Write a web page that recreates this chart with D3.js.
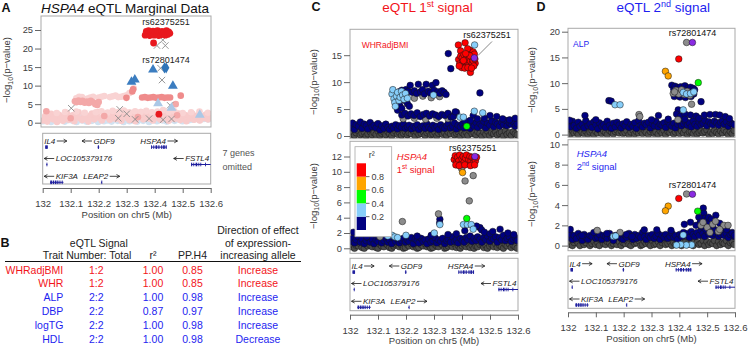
<!DOCTYPE html>
<html><head><meta charset="utf-8">
<script src="https://cdn.jsdelivr.net/npm/d3@7"></script>
<style>body{margin:0;background:#fff} svg{display:block;font-family:"Liberation Sans",Arial,Helvetica,sans-serif}</style>
</head><body><script>
// ================= DATA =================
const xTicks=[132,132.1,132.2,132.3,132.4,132.5,132.6];
const xTickLabels=["132","132.1","132.2","132.3","132.4","132.5","132.6"];
const aYTicks=[0,5,10,15,20,25];
const cTopYTicks=[0,5,10,15];
const cBotYTicks=[0,2,4,6,8,10,12];
const dTopYTicks=[0,5,10,15,20];
const dBotYTicks=[0,2,4,6,8,10];
const ldBreakLabels=["0.2","0.4","0.6","0.8"];
const ldColors=["#000080","#87cefa","#00ff00","#ffa500","#ff0000"];

// genes
const geneNames=["IL4","GDF9","HSPA4","LOC105379176","FSTL4","KIF3A","LEAP2"];
const geneStart=[132.009,132.196,132.387,132.013,132.530,132.026,132.208];
const geneEnd=[132.018,132.202,132.443,132.016,132.600,132.074,132.212];
const geneStrand=["+","-","+","-","-","-","+"];
const geneRow=[0,0,0,1,1,2,2];
const geneExons=[
 [[132.009,132.018]],
 [[132.197,132.201]],
 [[132.387,132.390],[132.395,132.398],[132.403,132.409],[132.413,132.417],[132.423,132.427],[132.430,132.436],[132.439,132.443]],
 [[132.0135,132.0155]],
 [[132.530,132.534],[132.538,132.541],[132.546,132.552],[132.556,132.558],[132.563,132.566],[132.580,132.582]],
 [[132.027,132.033],[132.036,132.041],[132.044,132.049],[132.052,132.056],[132.060,132.063],[132.068,132.071]],
 [[132.2095,132.2110]]
];

// table (panel B)
const tableTraits=["WHRadjBMI","WHR","ALP","DBP","logTG","HDL"];
const tableSignal=["1:2","1:2","2:2","2:2","2:2","2:2"];
const tableR2=["1.00","1.00","1.00","0.87","1.00","1.00"];
const tablePPH4=["0.85","0.85","0.98","0.97","0.98","0.98"];
const tableDirection=["Increase","Increase","Increase","Increase","Increase","Decrease"];
const tableSignalNo=[1,1,2,2,2,2];

// shared SNP positions for the dense low background band (Mb)
const snpPos=[132.002,132.009,132.016,132.022,132.030,132.037,132.043,132.051,132.058,132.064,
132.072,132.079,132.086,132.093,132.100,132.107,132.113,132.121,132.128,132.135,
132.141,132.149,132.156,132.163,132.170,132.176,132.184,132.191,132.198,132.205,
132.211,132.219,132.226,132.233,132.240,132.246,132.254,132.261,132.268,132.275,
132.281,132.289,132.296,132.303,132.310,132.316,132.324,132.331,132.338,132.345,
132.351,132.359,132.366,132.373,132.380,132.386,132.394,132.401,132.408,132.415,
132.421,132.429,132.436,132.443,132.450,132.456,132.464,132.471,132.478,132.485,
132.491,132.499,132.506,132.513,132.520,132.526,132.534,132.541,132.548,132.555,
132.561,132.569,132.576,132.583,132.590,132.597];

// Panel A background (-log10 p)
const aBlueBg=[0.4,1.2,0.8,1.5,0.2,1.0,1.7,0.6,1.3,0.9,1.6,0.3,1.1,0.7,1.4,0.5,1.0,0.2,0.8,1.3,0.6,1.1,0.3,0.9,1.4,0.5,1.2,0.7,0.2,1.0,0.8,0.4,1.3,0.6,1.0,0.3,0.9,1.5,0.5,1.1,0.7,0.2,1.2,0.8,0.4,1.0,0.6,1.3,0.3,0.9,1.1,0.5,0.8,1.4,0.2,1.0,0.7,1.2,0.4,0.9,1.5,0.6,1.1,0.3,1.3,0.8,1.6,0.5,1.2,0.9,1.7,0.4,1.4,1.0,0.6,1.5,0.8,1.8,1.1,1.3,0.7,1.6,1.0,1.4,0.9,1.2];
const aPinkBg=[0.6,1.8,0.3,1.2,2.4,0.9,1.5,0.2,2.1,1.0,0.5,1.7,2.6,0.8,1.3,2.0,0.4,1.6,2.8,1.1,0.7,2.2,1.4,0.3,1.9,2.5,0.9,1.6,2.9,1.2,0.6,2.3,1.5,2.7,0.8,1.9,2.4,1.0,2.6,1.4,0.5,2.1,2.8,1.3,0.7,2.5,1.8,0.4,2.2,1.6,2.9,0.9,1.7,2.3,1.1,2.6,0.6,1.9,2.4,1.2,0.8,2.0,1.5,2.7,0.5,1.8,2.3,1.0,1.6,2.5,0.7,1.3,2.1,0.4,1.9,1.1,2.4,0.8,1.5,2.0,0.6,1.7,1.2,2.2,0.9,1.4];
const aPinkPale=[[132.12,6.6],[132.14,6.9],[132.16,6.5],[132.18,7.0],[132.20,6.8],[132.22,7.2],[132.24,6.9],[132.26,7.3],[132.28,7.0],[132.30,7.4],[132.31,8.0],[132.325,9.3],[132.13,7.0],[132.17,6.8],[132.21,7.0],[132.25,7.1],[132.27,6.9],[132.29,7.2],
[132.19,2.8],[132.21,3.1],[132.23,2.7],[132.25,3.2],[132.27,2.9],[132.29,3.3],[132.31,2.8],[132.33,3.1],[132.35,2.9],[132.37,3.2],[132.39,2.8],[132.41,3.0],[132.43,3.4],[132.45,2.9],[132.47,3.1],[132.50,2.6],[132.53,2.8],[132.56,3.0],[132.59,2.7],[132.05,2.6],[132.08,2.9],[132.12,3.0],[132.15,2.7]];
const aPinkMid=[[132.115,5.8],[132.120,5.5],[132.128,6.0],[132.135,5.6],[132.142,5.9],[132.150,5.4],[132.158,5.7],[132.165,5.3],[132.172,5.9],[132.180,5.5],[132.188,5.0],[132.195,4.8],[132.200,5.6],[132.013,3.1],[132.475,5.0],[132.22,1.8],[132.34,1.5],[132.48,2.0],[132.10,1.2]];
const aPinkSat=[[132.355,6.8],[132.365,6.9],[132.375,6.7],[132.385,6.8],[132.395,6.9],[132.405,6.7],[132.415,6.8],[132.425,6.9],[132.435,6.7],[132.445,6.8],[132.455,6.8],[132.299,6.7],[132.323,9.0],[132.320,8.4],[132.493,7.3]];
const aRed=[[132.366,23.6],[132.370,24.6],[132.374,23.9],[132.378,24.8],[132.382,23.5],[132.386,24.4],[132.390,23.8],[132.394,24.7],[132.398,23.6],[132.402,24.5],[132.406,23.9],[132.410,24.8],[132.414,23.5],[132.418,24.3],[132.422,23.7],[132.426,24.6],[132.430,23.9],[132.434,24.4],[132.438,23.6],[132.442,24.8],[132.446,23.8],[132.450,24.5],[132.454,24.1],[132.396,21.5],[132.415,2.3]];
const aTriBlue=[[132.317,11.0],[132.329,11.6],[132.394,14.3],[132.465,9.9]];
const aTriPale=[[132.412,5.2],[132.561,2.1],[132.460,4.0]];
const aDiamond=[[132.435,14.8],[132.441,14.8]];
const aCross=[[132.102,3.9],[132.275,3.6],[132.408,20.8],[132.438,20.8],[132.429,22.3],[132.426,11.5],[132.421,14.7],[132.455,4.7],[132.270,1.2],[132.330,0.9],[132.380,1.1],[132.430,0.8],[132.460,1.0],[132.300,2.4]];

// Panel C top (WHRadjBMI)
const cTopLo=[0.3,0.8,0.1,0.6,0.9,0.2,0.5,0.7,0.0,0.4,0.8,0.2,0.6,0.3,0.9,0.1,0.5,0.7,0.2,0.8,0.4,0.0,0.6,0.9,0.3,0.7,0.1,0.5,0.8,0.2,0.6,0.4,0.9,0.0,0.7,0.3,0.5,0.8,0.1,0.6,0.9,0.2,0.4,0.7,0.0,0.5,0.8,0.3,0.6,0.1,0.7,0.4,0.9,0.2,0.5,0.8,0.0,0.6,0.3,0.7,0.1,0.9,0.4,0.6,0.2,0.8,0.5,0.0,0.7,0.3,0.9,0.1,0.6,0.4,0.8,0.2,0.5,0.7,0.0,0.9,0.3,0.6,0.1,0.8,0.4,0.2];
const cTopHi=[1.6,2.4,1.2,2.1,1.8,2.6,1.4,2.2,1.9,1.3,2.5,1.7,2.0,1.5,2.3,1.1,1.9,1.4,2.2,1.6,1.2,1.8,1.5,2.1,1.3,1.9,1.6,2.2,1.4,1.7,2.0,1.3,1.8,1.5,2.1,1.2,1.7,1.9,1.4,2.2,1.6,1.3,2.0,1.5,1.8,1.2,2.1,1.6,1.4,1.9,2.3,1.5,1.8,2.4,1.3,2.0,1.7,2.2,1.5,1.9,2.6,1.4,2.1,1.8,2.5,1.6,2.3,1.9,2.7,1.5,2.4,2.0,2.8,1.7,2.5,2.2,1.8,2.6,2.1,2.9,1.9,2.4,2.2,2.7,1.8,2.3];
const cTopGray=[[132.18,7.2],[132.20,7.3],[132.23,7.0],[132.26,7.4],[132.29,7.1],[132.32,7.3],[132.19,3.2],[132.23,3.3],[132.27,3.1],[132.31,3.3],[132.35,3.2]];
const cTopNavy=[[132.168,7.9],[132.176,8.2],[132.185,8.5],[132.192,8.0],[132.200,8.6],[132.208,8.3],[132.215,9.4],[132.222,8.1],[132.230,8.4],[132.238,7.9],[132.244,9.6],[132.252,8.2],[132.259,8.6],[132.266,7.8],[132.272,9.6],[132.280,8.3],[132.287,8.0],[132.294,9.4],[132.300,8.5],[132.307,9.9],[132.314,8.2],[132.321,7.9],[132.329,8.4],[132.336,8.1],[132.343,7.7],
[132.170,4.8],[132.178,5.6],[132.185,5.1],[132.196,6.6],[132.205,6.0],[132.212,5.5],
[132.185,3.9],[132.196,4.2],[132.207,3.7],[132.218,4.1],[132.229,3.8],[132.240,4.3],[132.251,3.6],[132.262,4.0],[132.273,4.2],[132.284,3.7],[132.295,4.1],[132.306,3.9],[132.317,3.6],[132.328,4.0],[132.339,3.8],[132.350,4.2],[132.361,3.5],[132.372,3.9],[132.380,4.4],
[132.351,15.3],[132.360,12.5],[132.464,8.0],[132.440,3.8],[132.500,3.8],[132.524,3.6],[132.369,3.6],[132.376,4.5],[132.455,3.2],[132.480,3.3],[132.545,3.2],[132.570,3.0],[132.590,3.3],[132.430,2.9],[132.410,2.8]];
const cTopLb=[[132.150,7.8],[132.153,8.6],[132.157,6.9],[132.160,6.2],[132.162,5.5],[132.166,7.4],[132.170,8.1],[132.175,6.6],[132.179,7.2],[132.184,8.3],[132.188,7.6],[132.193,6.8],[132.198,7.9],[132.205,7.0],[132.298,7.6],[132.393,3.5],[132.405,3.5],[132.444,4.6],[132.474,4.3]];
const cTopGreen=[[132.417,1.8]];
const cTopRed=[[132.387,16.9],[132.411,17.3],[132.429,15.9],[132.430,11.8],[132.447,13.5],[132.395,15.8],[132.420,16.2],[132.440,15.6],
[132.388,14.2],[132.392,13.4],[132.395,14.8],[132.398,13.1],[132.401,14.5],[132.404,13.8],[132.407,15.1],[132.409,13.3],[132.412,14.1],[132.415,12.9],[132.417,14.7],[132.420,13.6],[132.422,15.0],[132.425,13.2],[132.427,14.4],[132.430,13.9],[132.432,12.8],[132.435,14.6],[132.437,13.5],[132.440,14.0],[132.442,13.0],[132.444,15.2],[132.446,14.3],[132.399,12.7],[132.410,12.6],[132.421,12.7],[132.434,12.6],[132.405,14.0],[132.428,14.9],[132.413,15.3],[132.390,13.0]];
const cTopLbTop=[[132.445,16.9]];
const cTopPurple=[[132.444,14.5]];

// Panel C bottom (HSPA4 1st signal)
const cBotLo=[0.2,0.5,0.0,0.4,0.3,0.6,0.1,0.0,0.5,0.3,0.4,0.2,0.6,0.1,0.0,0.5,0.3,0.2,0.6,0.4,0.1,0.0,0.3,0.5,0.6,0.2,0.4,0.0,0.1,0.5,0.3,0.6,0.2,0.4,0.0,0.1,0.5,0.3,0.6,0.2,0.4,0.0,0.1,0.5,0.3,0.2,0.6,0.4,0.0,0.1,0.3,0.5,0.2,0.6,0.1,0.4,0.0,0.3,0.5,0.2,0.6,0.1,0.4,0.0,0.3,0.2,0.5,0.6,0.1,0.4,0.0,0.3,0.5,0.2,0.6,0.1,0.4,0.2,0.0,0.5,0.3,0.6,0.1,0.4,0.2,0.0];
const cBotHi=[0.9,1.3,0.7,1.1,1.5,0.8,1.2,0.6,1.0,1.4,0.8,1.2,0.6,1.1,0.9,1.5,0.7,1.0,1.3,0.8,1.1,0.6,1.4,0.9,1.2,0.7,1.0,1.3,0.8,1.1,0.9,1.4,0.6,1.2,1.0,0.7,1.3,0.9,1.1,0.6,1.2,0.8,1.0,1.4,0.7,1.1,0.9,1.3,0.6,1.0,1.2,0.8,1.5,0.9,1.1,0.7,1.3,1.0,0.8,1.4,1.1,1.6,0.9,1.3,1.0,1.5,1.2,0.8,1.4,1.1,1.6,0.9,1.3,1.2,1.5,0.8,1.4,1.1,1.7,1.0,1.3,1.5,0.9,1.2,1.4,1.0];
const cBotNavy=[[132.012,2.1],[132.321,3.8],[132.320,3.3],[132.464,2.7],[132.536,2.5],[132.564,2.0],[132.470,2.4],[132.452,2.9],[132.290,1.7],[132.240,1.6],[132.100,1.6],[132.060,1.5],[132.480,2.1],[132.500,1.9],[132.510,2.2],[132.585,1.8],[132.410,2.3],[132.380,1.9],[132.350,1.8]];
const cBotGray=[[132.399,10.4],[132.411,8.8],[132.440,9.5],[132.426,6.2],[132.316,4.5],[132.187,3.5],[132.107,1.5]];
const cBotLb=[[132.321,3.1],[132.301,2.0],[132.405,3.1],[132.419,3.1],[132.433,3.1],[132.440,2.5],[132.200,1.7],[132.150,1.7],[132.160,1.5],[132.170,1.4],[132.135,1.6]];
const cBotGreen=[[132.417,3.9]];
const cBotOrange=[[132.402,9.9]];
const cBotRed=[[132.372,11.6],[132.376,12.1],[132.380,11.2],[132.384,11.9],[132.388,11.4],[132.392,12.2],[132.396,11.0],[132.400,11.7],[132.404,12.0],[132.408,11.3],[132.412,11.8],[132.416,12.2],[132.420,11.1],[132.424,11.6],[132.428,12.0],[132.432,11.4],[132.436,11.9],[132.440,11.2],[132.444,11.7],[132.448,11.4],[132.452,11.9],[132.378,10.9],[132.390,10.8],[132.410,10.9],[132.430,10.8],[132.445,10.9]];
const cBotPurple=[[132.446,12.0]];

// Panel D top (ALP)
const dTopLo=[0.5,0.1,0.8,0.3,0.6,0.0,0.9,0.4,0.2,0.7,0.1,0.5,0.8,0.0,0.6,0.3,0.9,0.2,0.7,0.4,0.0,0.8,0.5,0.1,0.6,0.9,0.3,0.7,0.2,0.4,0.8,0.0,0.5,0.9,0.1,0.6,0.3,0.7,0.2,0.8,0.4,0.0,0.6,0.9,0.2,0.5,0.1,0.7,0.3,0.8,0.0,0.6,0.4,0.9,0.1,0.5,0.8,0.2,0.7,0.3,0.9,0.0,0.5,0.6,0.2,0.8,0.1,0.4,0.7,0.3,0.6,0.9,0.0,0.5,0.2,0.8,0.4,0.1,0.7,0.3,0.9,0.5,0.0,0.6,0.2,0.8];
const dTopHi=[2.2,1.5,2.6,1.8,1.2,2.4,1.6,2.0,1.3,2.7,1.7,2.1,1.4,2.5,1.9,1.1,2.3,1.6,2.0,1.4,2.6,1.8,1.2,2.2,1.5,2.4,1.9,1.3,2.1,1.7,2.5,1.4,2.0,1.6,2.3,1.2,2.7,1.8,1.5,2.2,1.9,2.4,1.3,2.1,1.7,2.6,1.5,2.0,1.8,2.3,1.4,2.5,1.9,1.6,2.2,1.3,2.0,2.4,1.7,2.1,2.6,1.8,2.3,1.5,2.7,2.0,1.6,2.4,1.9,2.2,2.8,1.7,2.5,2.1,1.9,2.6,2.3,1.8,2.4,2.7,2.0,2.5,1.6,2.3,2.1,1.9];
const dTopNavy=[[132.373,9.6],[132.380,8.8],[132.385,9.4],[132.390,8.1],[132.395,9.1],[132.400,8.5],[132.405,9.3],[132.410,8.0],[132.415,8.9],[132.420,9.5],[132.425,8.3],[132.430,9.0],[132.435,8.6],[132.440,9.2],[132.445,8.4],[132.450,9.0],[132.455,8.7],[132.382,7.4],[132.392,7.8],[132.402,7.3],[132.412,7.6],[132.422,7.2],[132.432,7.7],[132.442,7.4],[132.452,7.9],
[132.478,6.4],[132.396,4.8],[132.390,4.0],[132.404,3.6],[132.147,6.6],[132.155,6.5],[132.061,3.7],[132.325,3.7],[132.490,3.8],[132.510,3.9],[132.530,3.9],[132.545,3.8],[132.565,3.5],[132.440,3.8],[132.420,4.0],[132.460,3.6],[132.420,3.0],[132.470,3.2],[132.005,2.8],[132.100,2.9],[132.300,2.9],[132.360,3.0],[132.580,3.1]];
const dTopGray=[[132.378,8.0],[132.388,8.6],[132.398,7.9],[132.408,8.7],[132.418,7.8],[132.428,8.4],[132.438,7.6],[132.448,8.1],[132.383,8.3],[132.444,5.9],[132.255,3.9],[132.258,3.5],[132.395,2.9],[132.426,17.9]];
const dTopLb=[[132.414,8.2],[132.426,7.9],[132.440,8.0],[132.452,8.3],[132.414,4.8],[132.169,5.8],[132.187,5.8]];
const dTopGreen=[[132.468,10.1]];
const dTopOrange=[[132.350,12.3],[132.360,11.4]];
const dTopRed=[[132.398,14.7]];
const dTopPurple=[[132.447,17.9]];

// Panel D bottom (HSPA4 2nd signal)
const dBotLo=[0.1,0.4,0.0,0.3,0.5,0.2,0.0,0.4,0.1,0.3,0.5,0.0,0.2,0.4,0.1,0.3,0.0,0.5,0.2,0.1,0.4,0.3,0.0,0.2,0.5,0.1,0.4,0.0,0.3,0.2,0.5,0.1,0.0,0.4,0.2,0.3,0.5,0.0,0.1,0.4,0.2,0.3,0.0,0.5,0.1,0.2,0.4,0.0,0.3,0.5,0.1,0.2,0.4,0.0,0.3,0.1,0.5,0.2,0.0,0.4,0.3,0.1,0.5,0.2,0.0,0.4,0.3,0.1,0.2,0.5,0.0,0.4,0.1,0.3,0.2,0.5,0.0,0.4,0.1,0.3,0.2,0.5,0.0,0.3,0.4,0.1];
const dBotHi=[0.8,1.1,0.6,1.0,0.7,1.2,0.9,0.5,1.1,0.8,0.6,1.0,0.9,1.3,0.7,0.8,1.1,0.6,1.0,0.9,0.7,1.2,0.8,0.5,1.0,0.9,1.1,0.7,0.6,1.0,0.8,1.2,0.9,0.6,1.1,0.7,1.0,0.8,1.3,0.9,0.6,1.0,0.8,1.1,0.7,0.9,1.2,0.6,1.0,0.8,1.1,0.7,0.9,1.2,0.8,1.0,0.6,1.1,0.9,1.3,1.0,1.2,0.8,1.4,1.1,0.9,1.3,1.0,1.5,1.2,0.9,1.4,1.1,1.3,1.0,1.2,1.5,0.9,1.1,1.3,1.0,1.2,0.8,1.1,1.3,0.9];
const dBotNavy=[[132.486,3.7],[132.488,3.2],[132.490,2.7],[132.531,3.0],[132.418,2.1],[132.440,2.3],[132.370,1.5],[132.319,1.55],[132.274,1.55],[132.008,1.6],[132.470,2.8],[132.475,2.3],[132.500,2.5],[132.510,2.2],[132.520,1.9],[132.545,2.2],[132.555,1.8],[132.570,1.6],[132.590,1.2],[132.460,2.0],[132.480,1.9],[132.495,1.6],[132.505,2.8],[132.515,2.6],[132.530,1.5],[132.050,1.0],[132.140,1.2],[132.210,1.1],[132.230,0.9],[132.598,1.0]];
const dBotGray=[[132.426,5.1],[132.105,1.5],[132.187,1.3],[132.478,2.0],[132.500,1.8],[132.485,2.3],[132.520,2.1],[132.540,1.4],[132.560,2.0],[132.575,2.0],[132.510,1.3],[132.530,2.4],[132.545,1.6]];
const dBotLb=[[132.163,0.9],[132.171,0.95],[132.414,1.05],[132.444,0.07],[132.425,0.05],[132.405,0.1],[132.390,0.05]];
const dBotGreen=[[132.466,3.4]];
const dBotOrange=[[132.360,3.9],[132.350,3.44]];
const dBotRed=[[132.398,4.66]];
const dBotPurple=[[132.447,5.08]];

// ================= DRAWING =================
const RED="#f2141a", BLUE="#1e1ef0", FRAME="#a9a9a9", TICK="#666", TXT="#404040";
const GRAY="#8c8c8c", DARKGRAY="#4a4a4a", PURPLE="#8a2be2";
const svg=d3.select("body").append("svg").attr("width",748).attr("height",347);
let clipN=0;

function frame(x0,y0,x1,y1){
  svg.append("rect").attr("x",x0).attr("y",y0).attr("width",x1-x0).attr("height",y1-y0)
    .attr("fill","none").attr("stroke",FRAME).attr("stroke-width",1);
}
function text(x,y,s,opt={}){
  const t=svg.append("text").attr("x",x).attr("y",y).text(s)
    .attr("fill",opt.fill||"#222").style("font-size",(opt.size||10)+"px")
    .attr("text-anchor",opt.anchor||"start");
  if(opt.italic) t.attr("font-style","italic");
  if(opt.bold) t.attr("font-weight","bold");
  return t;
}
function leftAxis(y,xPos,ticks){
  const g=svg.append("g").attr("transform",`translate(${xPos},0)`)
    .call(d3.axisLeft(y).tickValues(ticks).tickSize(6).tickPadding(2).tickFormat(d3.format("d")));
  g.select(".domain").remove();
  g.attr("font-family",null);
  g.selectAll("line").attr("stroke",TICK);
  g.selectAll("text").attr("fill",TXT).style("font-size","9.3px");
}
function yLabel(cx,cy){
  const t=svg.append("text").attr("transform",`translate(${cx},${cy}) rotate(-90)`)
    .attr("text-anchor","middle").attr("fill",TXT).style("font-size","9.5px");
  t.append("tspan").text("\u2212log");
  t.append("tspan").text("10").attr("dy",2.5).style("font-size","7px");
  t.append("tspan").text("(p\u2212value)").attr("dy",-2.5);
}
function bottomAxis(x,yPos){
  const g=svg.append("g").attr("transform",`translate(0,${yPos})`)
    .call(d3.axisBottom(x).tickValues(xTicks).tickSize(5).tickSizeOuter(0).tickPadding(7)
      .tickFormat((d,i)=>xTickLabels[i]));
  g.attr("font-family",null);
  g.select(".domain").attr("stroke",TICK);
  g.selectAll("line").attr("stroke",TICK);
  g.selectAll("text").attr("fill",TXT).style("font-size","9.6px");
}
function clip(x0,y0,x1,y1){
  const id="clp"+(clipN++);
  svg.append("clipPath").attr("id",id).append("rect").attr("x",x0).attr("y",y0).attr("width",x1-x0).attr("height",y1-y0);
  return svg.append("g").attr("clip-path",`url(#${id})`);
}
function dots(g,x,y,data,fill,r,stroke,sw){
  g.append("g").selectAll("circle").data(data).join("circle")
    .attr("cx",d=>x(d[0])).attr("cy",d=>y(d[1])).attr("r",r)
    .attr("fill",fill).attr("stroke",stroke||"none").attr("stroke-width",sw||0);
}
const bg=arr=>snpPos.map((p,i)=>[p,arr[i]]);

function geneTrack(x,left,top,right,bottom){
  frame(left,top,right,bottom);
  const rowLabel=[10.5,28,45.8], rowBar=[13.8,31.2,49.0];
  const GENE="#1f1f9e";
  geneNames.forEach((name,i)=>{
    const r=geneRow[i];
    const by=top+rowBar[r];
    svg.append("rect").attr("x",x(geneStart[i])).attr("y",by-0.5)
      .attr("width",Math.max(1,x(geneEnd[i])-x(geneStart[i]))).attr("height",1).attr("fill",GENE);
    geneExons[i].forEach(e=>{
      svg.append("rect").attr("x",x(e[0])).attr("y",by-1.8)
        .attr("width",Math.max(0.9,x(e[1])-x(e[0]))).attr("height",3.6).attr("fill",GENE);
    });
    const ly=top+rowLabel[r];
    const t=text(0,ly,name,{size:8,italic:true,fill:"#1a1a1a"});
    const tw=t.node().getComputedTextLength();
    const aw=10, total=tw+aw+1.5;
    let lx=x((geneStart[i]+geneEnd[i])/2)-total/2;
    lx=Math.max(left+1.5,Math.min(right-1.5-total,lx));
    const ay=ly-2.8;
    let a0,a1;
    if(geneStrand[i]==="+"){ t.attr("x",lx); a0=lx+tw+1.5; a1=lx+total; }
    else { t.attr("x",lx+aw+1.5); a0=lx+aw; a1=lx; }
    const dir=Math.sign(a1-a0);
    svg.append("path").attr("d",`M${a0},${ay}L${a1},${ay}M${a1-dir*3.2},${ay-1.8}L${a1},${ay}L${a1-dir*3.2},${ay+1.8}`)
      .attr("fill","none").attr("stroke","#1a1a1a").attr("stroke-width",0.8);
  });
  bottomAxis(x,bottom+4);
}

// ---------- Panel A ----------
text(1.5,12,"A",{size:12.5,bold:true,fill:"#111"});
{
  const t=text(41,12.5,"",{size:13.5,fill:"#111"});
  t.append("tspan").text("HSPA4").attr("font-style","italic");
  t.append("tspan").text(" eQTL Marginal Data");
}
const xA=d3.scaleLinear().domain([132,132.6]).range([42.7,210.7]);
const yA=d3.scaleLinear().domain([0,25]).range([122.7,30]);
{
  const g=clip(41,16,211,127);
  dots(g,xA,yA,bg(aBlueBg),"#d2e2f1",3.3);
  dots(g,xA,yA,bg(aPinkBg),"#f8cbcb",3.3);
  dots(g,xA,yA,aPinkPale,"#f9d3d3",3.3);
  dots(g,xA,yA,aPinkMid,"#f3a8a8",3.3);
  dots(g,xA,yA,aPinkSat,"#ef8b8b",3.3);
  g.append("g").selectAll("path").data(aCross).join("path")
    .attr("d",d=>{const cx=xA(d[0]),cy=yA(d[1]),s=3.2;return `M${cx-s},${cy-s}L${cx+s},${cy+s}M${cx-s},${cy+s}L${cx+s},${cy-s}`;})
    .attr("stroke","#8a8a8a").attr("stroke-width",0.9).attr("fill","none");
  g.append("g").selectAll("path").data(aTriPale).join("path")
    .attr("transform",d=>`translate(${xA(d[0])},${yA(d[1])})`).attr("d",d3.symbol(d3.symbolTriangle,42)).attr("fill","#abc8e6");
  g.append("g").selectAll("path").data(aTriBlue).join("path")
    .attr("transform",d=>`translate(${xA(d[0])},${yA(d[1])})`).attr("d",d3.symbol(d3.symbolTriangle,42)).attr("fill","#3b7dc0");
  g.append("g").selectAll("path").data(aDiamond).join("path")
    .attr("transform",d=>`translate(${xA(d[0])},${yA(d[1])})`).attr("d",d3.symbol(d3.symbolDiamond,36)).attr("fill","#2f74b8");
  dots(g,xA,yA,aRed,"#e8191f",3.4);
}
frame(41,16,211,127);
leftAxis(yA,41,aYTicks);
yLabel(10,70);
text(166,25,"rs62375251",{size:9,anchor:"middle",fill:"#222"});
text(166,62.5,"rs72801474",{size:9,anchor:"middle",fill:"#222"});
geneTrack(xA,42.7,133.3,210.7,184);
text(126.7,217.5,"Position on chr5 (Mb)",{size:9.5,anchor:"middle",fill:TXT});
text(222.5,156,"7 genes",{size:9,fill:"#555"});
text(222.5,170,"omitted",{size:9,fill:"#555"});

// ---------- Panel B (table) ----------
text(0.5,247,"B",{size:12.5,bold:true,fill:"#111"});
const colTrait=63.3, colSig=98.8, colR2=153, colPP=192.5, colDir=258;
text(colSig,247,"eQTL Signal",{size:10.5,anchor:"middle"});
text(colTrait,259,"Trait",{size:10.5,anchor:"end"});
text(colSig,259,"Number: Total",{size:10.5,anchor:"middle"});
text(colR2,259,"r\u00b2",{size:10.5,anchor:"middle"});
text(colPP,259,"PP.H4",{size:10.5,anchor:"middle"});
text(colDir,234,"Direction of effect",{size:10.5,anchor:"middle"});
text(colDir,246.5,"of expression-",{size:10.5,anchor:"middle"});
text(colDir,259,"increasing allele",{size:10.5,anchor:"middle"});
svg.append("line").attr("x1",5).attr("x2",301).attr("y1",261.5).attr("y2",261.5).attr("stroke","#111").attr("stroke-width",1);
tableTraits.forEach((tr,i)=>{
  const y=273.5+i*13.9, c=tableSignalNo[i]===1?RED:BLUE;
  text(colTrait,y,tr,{size:10.5,anchor:"end",fill:c});
  text(colSig-2.5,y,tableSignal[i],{size:10.5,anchor:"middle",fill:c});
  text(colR2,y,tableR2[i],{size:10.5,anchor:"middle",fill:c});
  text(colPP,y,tablePPH4[i],{size:10.5,anchor:"middle",fill:c});
  text(colDir,y,tableDirection[i],{size:10.5,anchor:"middle",fill:c});
});

// ---------- LocusZoom panels ----------
function lzPanel(cfg){
  const x=d3.scaleLinear().domain([132,132.6]).range([cfg.x0,cfg.x1]);
  const y=d3.scaleLinear().domain([0,cfg.vRef]).range([cfg.zeroPx,cfg.refPx]);
  const g=clip(cfg.x0,cfg.y0,cfg.x1,cfg.y1);
  const R=3.3, S="#151515", W=0.5;
  dots(g,x,y,bg(cfg.lo),DARKGRAY,R,S,W);
  dots(g,x,y,bg(cfg.hi),"#000080",R,S,W);
  cfg.layers.forEach(L=>dots(g,x,y,L[0],L[1],R,S,W));
  frame(cfg.x0,cfg.y0,cfg.x1,cfg.y1);
  leftAxis(y,cfg.x0,cfg.ticks);
  return {x,y};
}
// C
text(311.5,11,"C",{size:12.5,bold:true,fill:"#111"});
{
  const t=text(427.5,12,"",{size:13.5,anchor:"middle",fill:RED});
  t.append("tspan").text("eQTL 1");
  t.append("tspan").text("st").attr("dy",-5).style("font-size","9px");
  t.append("tspan").text(" signal").attr("dy",5);
}
const cTop=lzPanel({x0:350,x1:518,y0:29.3,y1:138.7,zeroPx:136.0,refPx:55.2,vRef:15,ticks:cTopYTicks,lo:cTopLo,hi:cTopHi,
  layers:[[cTopGray,GRAY],[cTopNavy,"#000080"],[cTopLb,"#87cefa"],[cTopGreen,"#00ff00"],[cTopRed,"#ff0000"],[cTopLbTop,"#87cefa"],[cTopPurple,PURPLE]]});
yLabel(316.7,82);
text(361.7,47.5,"WHRadjBMI",{size:8.5,fill:RED});
text(463.3,37.5,"rs62375251",{size:9,fill:"#111"});
svg.append("line").attr("x1",492).attr("y1",41.5).attr("x2",478).attr("y2",55.5).attr("stroke","#555").attr("stroke-width",0.7);

const cBot=lzPanel({x0:350,x1:518,y0:141.3,y1:253.3,zeroPx:248.3,refPx:156.5,vRef:12,ticks:cBotYTicks,lo:cBotLo,hi:cBotHi,
  layers:[[cBotNavy,"#000080"],[cBotGray,GRAY],[cBotLb,"#87cefa"],[cBotGreen,"#00ff00"],[cBotOrange,"#ffa500"],[cBotRed,"#ff0000"],[cBotPurple,PURPLE]]});
yLabel(316.7,196);
text(449,150.5,"rs62375251",{size:9,fill:"#111"});
{
  text(396.7,160,"HSPA4",{size:9.5,italic:true,fill:RED});
  const t2=text(396.7,172.5,"1",{size:9.5,fill:RED});
  t2.append("tspan").text("st").attr("dy",-3.5).style("font-size","6.5px");
  t2.append("tspan").text(" signal").attr("dy",3.5);
}
// legend
svg.append("rect").attr("x",355).attr("y",146.7).attr("width",36.7).attr("height",90).attr("fill","#fff").attr("stroke",FRAME).attr("stroke-width",0.8);
text(371.7,158,"r\u00b2",{size:9,anchor:"middle",fill:TXT});
{
  const ly=d3.scaleLinear().domain([0,1]).range([230,163.3]);
  const steps=[0,0.2,0.4,0.6,0.8,1.0];
  ldColors.forEach((c,i)=>{
    svg.append("rect").attr("x",356.7).attr("y",ly(steps[i+1])).attr("width",9.3).attr("height",ly(steps[i])-ly(steps[i+1])).attr("fill",c);
  });
  ldBreakLabels.forEach((s,i)=>{
    const yy=ly(steps[i+1]);
    svg.append("line").attr("x1",366).attr("x2",369.5).attr("y1",yy).attr("y2",yy).attr("stroke",TICK);
    text(371.5,yy+3.2,s,{size:9,fill:TXT});
  });
}
geneTrack(cTop.x,350,258.3,518,310.7);
text(434,344,"Position on chr5 (Mb)",{size:9.5,anchor:"middle",fill:TXT});

// D
text(536.5,11,"D",{size:12.5,bold:true,fill:"#111"});
{
  const t=text(663.3,12,"",{size:13.5,anchor:"middle",fill:BLUE});
  t.append("tspan").text("eQTL 2");
  t.append("tspan").text("nd").attr("dy",-5).style("font-size","9px");
  t.append("tspan").text(" signal").attr("dy",5);
}
const dTop=lzPanel({x0:568,x1:735,y0:28.3,y1:137.3,zeroPx:134.6,refPx:31.7,vRef:20,ticks:dTopYTicks,lo:dTopLo,hi:dTopHi,
  layers:[[dTopNavy,"#000080"],[dTopGray,GRAY],[dTopLb,"#87cefa"],[dTopGreen,"#00ff00"],[dTopOrange,"#ffa500"],[dTopRed,"#ff0000"],[dTopPurple,PURPLE]]});
yLabel(535,80);
text(573,46.5,"ALP",{size:8.5,fill:BLUE});
text(692.5,36,"rs72801474",{size:9,anchor:"middle",fill:"#111"});
const dBot=lzPanel({x0:568,x1:735,y0:139.7,y1:250.7,zeroPx:245.6,refPx:144.4,vRef:10,ticks:dBotYTicks,lo:dBotLo,hi:dBotHi,
  layers:[[dBotNavy,"#000080"],[dBotGray,GRAY],[dBotLb,"#87cefa"],[dBotGreen,"#00ff00"],[dBotOrange,"#ffa500"],[dBotRed,"#ff0000"],[dBotPurple,PURPLE]]});
yLabel(535,194);
text(692.5,188,"rs72801474",{size:9,anchor:"middle",fill:"#111"});
{
  text(576.7,157,"HSPA4",{size:9.5,italic:true,fill:BLUE});
  const t2=text(576.7,169.5,"2",{size:9.5,fill:BLUE});
  t2.append("tspan").text("nd").attr("dy",-3.5).style("font-size","6.5px");
  t2.append("tspan").text(" signal").attr("dy",3.5);
}
geneTrack(dTop.x,568,256,735,308.3);
text(651.5,341.5,"Position on chr5 (Mb)",{size:9.5,anchor:"middle",fill:TXT});
</script></body></html>
